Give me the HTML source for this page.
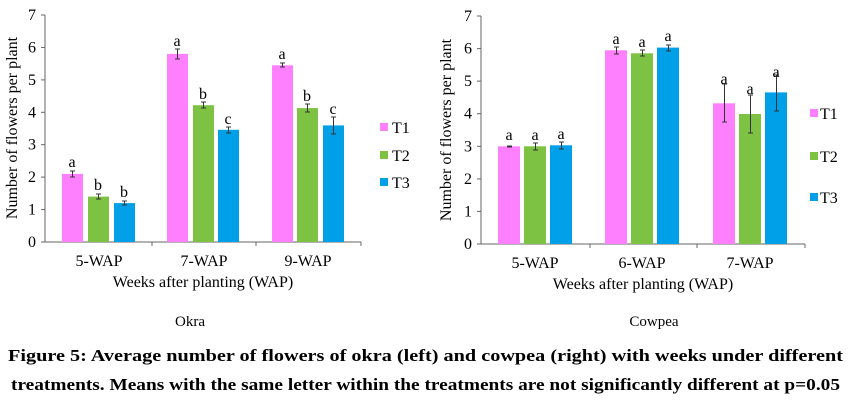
<!DOCTYPE html>
<html><head><style>
body{margin:0;background:#fff;}
svg{display:block;font-family:"Liberation Serif",serif;}
</style></head><body>
<svg width="851" height="410" viewBox="0 0 851 410" xmlns="http://www.w3.org/2000/svg">
<rect width="851" height="410" fill="#fff"/>
<!-- LEFT CHART -->
<g font-size="16" fill="#000">
<line x1="45" y1="15" x2="45" y2="242" stroke="#666"/>
<line x1="45" y1="242" x2="361" y2="242" stroke="#666"/>
<g stroke="#666">
<line x1="41" y1="15" x2="45" y2="15"/><line x1="41" y1="47.4" x2="45" y2="47.4"/><line x1="41" y1="79.9" x2="45" y2="79.9"/><line x1="41" y1="112.3" x2="45" y2="112.3"/><line x1="41" y1="144.7" x2="45" y2="144.7"/><line x1="41" y1="177.1" x2="45" y2="177.1"/><line x1="41" y1="209.6" x2="45" y2="209.6"/><line x1="41" y1="242" x2="45" y2="242"/>
<line x1="152" y1="242" x2="152" y2="246"/><line x1="256" y1="242" x2="256" y2="246"/><line x1="361" y1="242" x2="361" y2="246"/>
</g>
<g text-anchor="end">
<text x="36" y="20">7</text><text x="36" y="52.4">6</text><text x="36" y="84.9">5</text><text x="36" y="117.3">4</text><text x="36" y="149.7">3</text><text x="36" y="182.1">2</text><text x="36" y="214.6">1</text><text x="36" y="247">0</text>
</g>
<text transform="translate(17,128) rotate(-90)" text-anchor="middle">Number of flowers per plant</text>
<g text-anchor="middle">
<text x="99" y="266">5-WAP</text><text x="204" y="266">7-WAP</text><text x="308" y="266">9-WAP</text>
<text x="203" y="287">Weeks after planting (WAP)</text>
</g>
<g>
<rect x="62" y="173.9" width="21" height="68.1" fill="#FF80FF"/>
<rect x="88" y="196.6" width="21" height="45.4" fill="#7DC242"/>
<rect x="114" y="203.1" width="21" height="38.9" fill="#00A0E9"/>
<rect x="167" y="53.9" width="21" height="188.1" fill="#FF80FF"/>
<rect x="193" y="105.2" width="21" height="136.8" fill="#7DC242"/>
<rect x="218" y="129.8" width="21" height="112.2" fill="#00A0E9"/>
<rect x="272" y="65.3" width="21" height="176.7" fill="#FF80FF"/>
<rect x="297" y="108.1" width="21" height="133.9" fill="#7DC242"/>
<rect x="323" y="125.4" width="21" height="116.6" fill="#00A0E9"/>
</g>
<g stroke="#333" stroke-width="1">
<path d="M72.5 171v6M70 171h5M70 177h5"/>
<path d="M98.5 194v5M96 194h5M96 199h5"/>
<path d="M124.5 201v4M122 201h5M122 205h5"/>
<path d="M177.5 49v10M175 49h5M175 59h5"/>
<path d="M203.5 102v6M201 102h5M201 108h5"/>
<path d="M228.5 127v6M226 127h5M226 133h5"/>
<path d="M282.5 63v4M280 63h5M280 67h5"/>
<path d="M307.5 104v8M305 104h5M305 112h5"/>
<path d="M333.5 117v17M331 117h5M331 134h5"/>
</g>
<g text-anchor="middle">
<text x="72" y="167">a</text><text x="98" y="190">b</text><text x="124" y="197">b</text>
<text x="177" y="46">a</text><text x="203" y="99">b</text><text x="228" y="124">c</text>
<text x="282" y="59">a</text><text x="307" y="101">b</text><text x="333" y="114">c</text>
</g>
<rect x="380" y="123" width="8" height="8" fill="#FF80FF"/><text x="392" y="133">T1</text>
<rect x="380" y="151" width="8" height="8" fill="#7DC242"/><text x="392" y="161">T2</text>
<rect x="380" y="178" width="8" height="8" fill="#00A0E9"/><text x="392" y="188">T3</text>
</g>
<!-- RIGHT CHART -->
<g font-size="16" fill="#000">
<line x1="481" y1="16" x2="481" y2="244" stroke="#666"/>
<line x1="481" y1="244" x2="805" y2="244" stroke="#666"/>
<g stroke="#666">
<line x1="477" y1="16" x2="481" y2="16"/><line x1="477" y1="48.6" x2="481" y2="48.6"/><line x1="477" y1="81.1" x2="481" y2="81.1"/><line x1="477" y1="113.7" x2="481" y2="113.7"/><line x1="477" y1="146.3" x2="481" y2="146.3"/><line x1="477" y1="178.9" x2="481" y2="178.9"/><line x1="477" y1="211.4" x2="481" y2="211.4"/><line x1="477" y1="244" x2="481" y2="244"/>
<line x1="590" y1="244" x2="590" y2="248"/><line x1="697" y1="244" x2="697" y2="248"/><line x1="805" y1="244" x2="805" y2="248"/>
</g>
<g text-anchor="end">
<text x="472" y="21">7</text><text x="472" y="53.6">6</text><text x="472" y="86.1">5</text><text x="472" y="118.7">4</text><text x="472" y="151.3">3</text><text x="472" y="183.9">2</text><text x="472" y="216.4">1</text><text x="472" y="249">0</text>
</g>
<text transform="translate(451,130) rotate(-90)" text-anchor="middle">Number of flowers per plant</text>
<g text-anchor="middle">
<text x="535" y="268">5-WAP</text><text x="642" y="268">6-WAP</text><text x="750" y="268">7-WAP</text>
<text x="643" y="289">Weeks after planting (WAP)</text>
</g>
<g>
<rect x="498" y="146.3" width="22" height="97.7" fill="#FF80FF"/>
<rect x="524" y="146.3" width="22" height="97.7" fill="#7DC242"/>
<rect x="550" y="145.3" width="22" height="98.7" fill="#00A0E9"/>
<rect x="605" y="50.3" width="22" height="193.7" fill="#FF80FF"/>
<rect x="631" y="53.3" width="22" height="190.7" fill="#7DC242"/>
<rect x="657" y="47.6" width="22" height="196.4" fill="#00A0E9"/>
<rect x="713" y="103.3" width="22" height="140.7" fill="#FF80FF"/>
<rect x="739" y="114" width="22" height="130" fill="#7DC242"/>
<rect x="765" y="92.4" width="22" height="151.6" fill="#00A0E9"/>
</g>
<g stroke="#333" stroke-width="1">
<path d="M509.5 146v1M507 146h5M507 147h5"/>
<path d="M535.5 143v7M533 143h5M533 150h5"/>
<path d="M561.5 142v7M559 142h5M559 149h5"/>
<path d="M616.5 47v7M614 47h5M614 54h5"/>
<path d="M642.5 50v6M640 50h5M640 56h5"/>
<path d="M668.5 45v6M666 45h5M666 51h5"/>
<path d="M724.5 84v38M722 84h5M722 122h5"/>
<path d="M750.5 95v38M748 95h5M748 133h5"/>
<path d="M776.5 75v36M774 75h5M774 111h5"/>
</g>
<g text-anchor="middle">
<text x="509" y="140">a</text><text x="535" y="140">a</text><text x="561" y="139">a</text>
<text x="616" y="44">a</text><text x="642" y="47">a</text><text x="668" y="41">a</text>
<text x="724" y="84">a</text><text x="750" y="94">a</text><text x="776" y="77">a</text>
</g>
<rect x="810" y="109" width="8" height="8" fill="#FF80FF"/><text x="820" y="119">T1</text>
<rect x="810" y="152" width="8" height="8" fill="#7DC242"/><text x="820" y="162">T2</text>
<rect x="810" y="193" width="8" height="8" fill="#00A0E9"/><text x="820" y="203">T3</text>
</g>
<g font-size="15" text-anchor="middle">
<text x="190" y="326">Okra</text>
<text x="654" y="326">Cowpea</text>
</g>
<g font-size="17" font-weight="bold">
<text x="8" y="361" textLength="835" lengthAdjust="spacingAndGlyphs">Figure 5: Average number of flowers of okra (left) and cowpea (right) with weeks under different</text>
<text x="11" y="390" textLength="829" lengthAdjust="spacingAndGlyphs">treatments. Means with the same letter within the treatments are not significantly different at p=0.05</text>
</g>
</svg>
</body></html>
